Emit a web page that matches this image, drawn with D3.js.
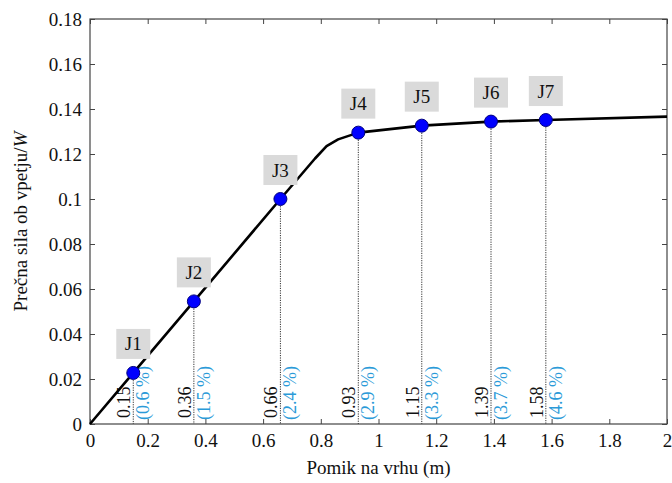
<!DOCTYPE html>
<html><head><meta charset="utf-8">
<script src="https://cdn.jsdelivr.net/npm/d3@7"></script>
<style>body{margin:0;background:#fff}svg{display:block}</style>
</head><body><svg id="c" width="672" height="483" font-family="'Liberation Serif', 'DejaVu Serif', serif"></svg>
<script>
const curveX = [0, 0.15, 0.36, 0.66, 0.78, 0.82, 0.86, 0.93, 1.15, 1.39, 1.58, 2.0];
const curveY = [0, 0.0227, 0.0545, 0.1, 0.118, 0.1235, 0.1265, 0.1295, 0.1326, 0.1344, 0.1351, 0.1366];
const pointNames = ["J1","J2","J3","J4","J5","J6","J7"];
const pointX = [0.15, 0.36, 0.66, 0.93, 1.15, 1.39, 1.58];
const pointY = [0.0227, 0.0545, 0.1, 0.1295, 0.1326, 0.1344, 0.1351];
const dispLabels = ["0.15","0.36","0.66","0.93","1.15","1.39","1.58"];
const driftLabels = ["(0.6 %)","(1.5 %)","(2.4 %)","(2.9 %)","(3.3 %)","(3.7 %)","(4.6 %)"];
const xTicks = [0,0.2,0.4,0.6,0.8,1,1.2,1.4,1.6,1.8,2];
const yTicks = [0,0.02,0.04,0.06,0.08,0.1,0.12,0.14,0.16,0.18];

const FONT = "Liberation Serif";
const svg = d3.select("#c");
const L=90, T=19, W=577, H=405;
const x = d3.scaleLinear().domain([0,2]).range([L, L+W]);
const y = d3.scaleLinear().domain([0,0.18]).range([T+H, T]);
const axisCol = "#444";
const fmt = d => String(+d.toFixed(2));

function styleAxis(g, showLabels){
  g.attr("font-family", FONT);
  g.select(".domain").remove();
  g.selectAll(".tick line").attr("stroke", axisCol);
  g.selectAll(".tick text").attr("font-size", 19).attr("fill","#111").attr("font-family", FONT);
  if(!showLabels) g.selectAll(".tick text").remove();
}
svg.append("g").attr("transform",`translate(0,${T+H})`)
  .call(d3.axisBottom(x).tickValues(xTicks).tickFormat(fmt).tickSize(-5).tickPadding(10))
  .call(g=>styleAxis(g,true));
svg.append("g").attr("transform",`translate(0,${T})`)
  .call(d3.axisTop(x).tickValues(xTicks).tickSize(-5))
  .call(g=>styleAxis(g,false));
svg.append("g").attr("transform",`translate(${L},0)`)
  .call(d3.axisLeft(y).tickValues(yTicks).tickFormat(fmt).tickSize(-5).tickPadding(8))
  .call(g=>styleAxis(g,true));
svg.append("g").attr("transform",`translate(${L+W},0)`)
  .call(d3.axisRight(y).tickValues(yTicks).tickSize(-5))
  .call(g=>styleAxis(g,false));
svg.append("rect").attr("x",L).attr("y",T).attr("width",W).attr("height",H)
  .attr("fill","none").attr("stroke",axisCol).attr("stroke-width",1.2);

// dotted verticals
const idx = d3.range(pointX.length);
svg.append("g").selectAll("line").data(idx).join("line")
  .attr("x1",i=>x(pointX[i])).attr("x2",i=>x(pointX[i]))
  .attr("y1",i=>y(pointY[i])).attr("y2",y(0))
  .attr("stroke","#333").attr("stroke-width",1).attr("stroke-dasharray","1.2,1.2");

// rotated labels
svg.append("g").selectAll("text").data(idx).join("text")
  .attr("transform",i=>`translate(${x(pointX[i])-3},${y(0)-6}) rotate(-90)`)
  .attr("font-family",FONT).attr("font-size",18).attr("fill","#111").text(i=>dispLabels[i]);
svg.append("g").selectAll("text").data(idx).join("text")
  .attr("transform",i=>`translate(${x(pointX[i])+16},${y(0)-4}) rotate(-90)`)
  .attr("font-family",FONT).attr("font-size",18).attr("fill","#2b9ad8").text(i=>driftLabels[i]);

// curve
const line = d3.line().x(d=>x(d[0])).y(d=>y(d[1]));
svg.append("path").datum(curveX.map((v,i)=>[v,curveY[i]]))
  .attr("d",line).attr("fill","none").attr("stroke","#000").attr("stroke-width",2.6)
  .attr("stroke-linejoin","round");

// points
svg.append("g").selectAll("circle").data(idx).join("circle")
  .attr("cx",i=>x(pointX[i])).attr("cy",i=>y(pointY[i])).attr("r",6.5)
  .attr("fill","#0000ff").attr("stroke","#000080").attr("stroke-width",1);

// name boxes
const bw=34, bh=30, gap=14;
const nb = svg.append("g").selectAll("g").data(idx).join("g");
nb.append("rect").attr("x",i=>x(pointX[i])-bw/2).attr("y",i=>y(pointY[i])-gap-bh)
  .attr("width",bw).attr("height",bh).attr("fill","#dadada");
nb.append("text").attr("x",i=>x(pointX[i])).attr("y",i=>y(pointY[i])-gap-bh/2+6.5)
  .attr("text-anchor","middle").attr("font-family",FONT).attr("font-size",19).attr("fill","#111").text(i=>pointNames[i]);

// axis titles
svg.append("text").attr("x",L+W/2).attr("y",474).attr("text-anchor","middle")
  .attr("font-family",FONT).attr("font-size",19).attr("fill","#111").text("Pomik na vrhu (m)");
const yt = svg.append("text").attr("transform",`translate(27,${T+H/2}) rotate(-90)`)
  .attr("text-anchor","middle").attr("font-family",FONT).attr("font-size",19).attr("fill","#111");
yt.append("tspan").text("Prečna sila ob vpetju/");
yt.append("tspan").attr("font-style","italic").text("W");
</script></body></html>
